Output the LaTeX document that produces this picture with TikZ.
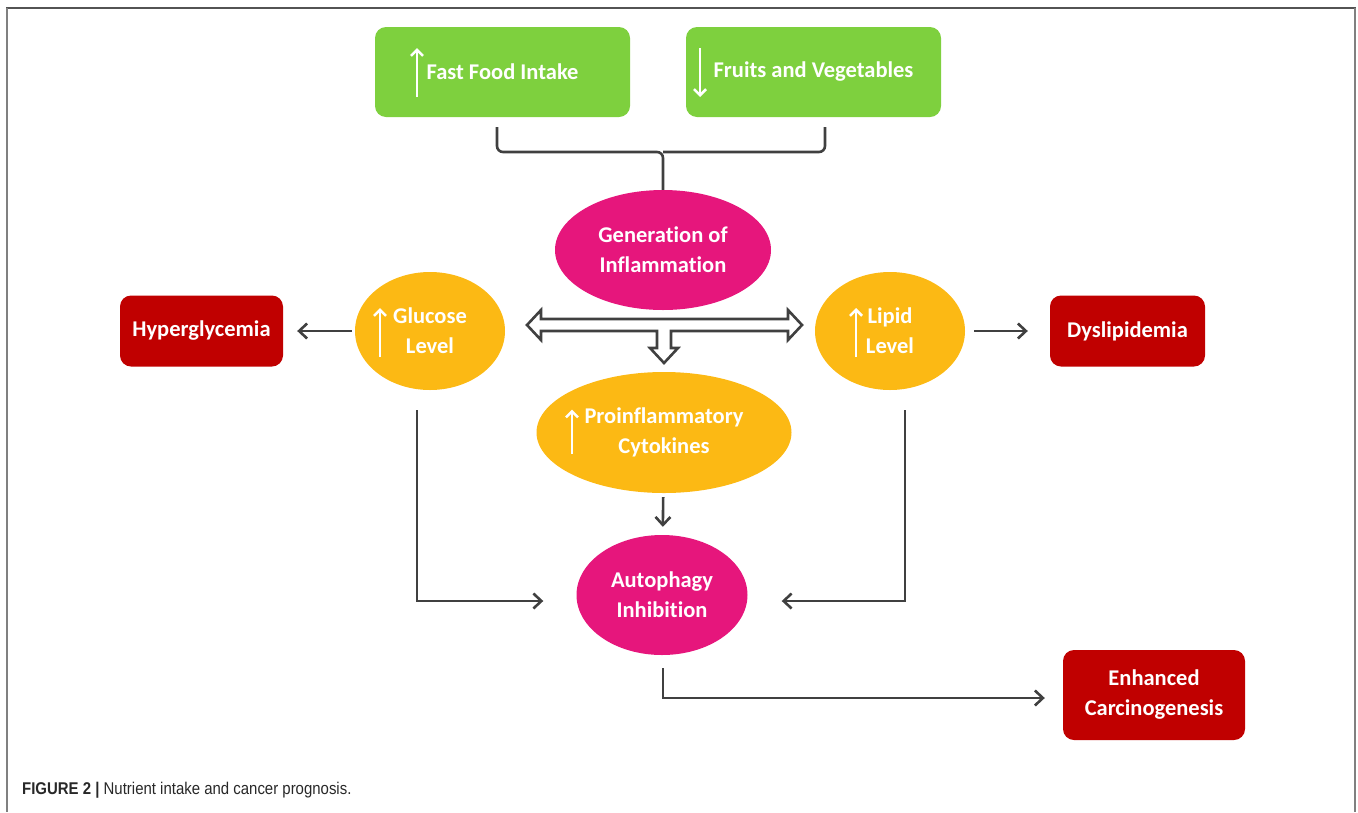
\documentclass[tikz,border=0pt]{standalone}
\usepackage{fontspec}
\setmainfont[Ligatures=NoCommon]{Carlito}
\newfontfamily\CapFont[FakeStretch=0.88]{Liberation Sans}
\usepackage{xcolor}
\definecolor{ColGreen}{RGB}{126,208,62}
\definecolor{ColPink}{RGB}{230,22,124}
\definecolor{ColGold}{RGB}{252,185,20}
\definecolor{ColRed}{RGB}{192,0,0}
\definecolor{ColLine}{RGB}{64,64,64}
\definecolor{ColCap}{RGB}{40,40,40}
\usepackage{tikz}
\usetikzlibrary{shapes.geometric}
\usetikzlibrary{arrows.meta}
\newcommand{\Lab}{\fontsize{22.5}{30}\selectfont\bfseries}
\tikzstyle{Box}=[rectangle,rounded corners=11pt,inner sep=0pt,
text=white,font=\Lab,align=center]
\tikzstyle{Oval}=[ellipse,inner sep=0pt,text=white,font=\Lab,align=center]
\tikzstyle{Edge}=[draw=ColLine,line width=2.6pt,
-{Straight Barb[length=8pt,width=15pt]}]
\tikzstyle{Bracket}=[draw=ColLine,line width=2.6pt,rounded corners=6pt]
\tikzstyle{Hollow}=[draw=ColLine,line width=2.6pt,fill=white,line join=miter]
\tikzstyle{Sign}=[draw=white,line width=2.6pt,
-{Straight Barb[length=6pt,width=12pt]}]

\begin{document}
\begin{tikzpicture}[x=1pt,y=-1pt]
            \useasboundingbox(0,0)rectangle(1358,812);
            % frame
            \draw[draw=ColLine!90,line width=2pt](6,8)--(1356,8);
            \draw[draw=gray,line width=2pt](7,8)--(7,812);
            \draw[draw=gray,line width=2pt](1355,8)--(1355,812);
            % boxes and ovals
            \node[Box,fill=ColGreen,minimum width=255pt,minimum height=90pt]
                (fast)at(502.5,72){Fast Food Intake};
            \node[Box,fill=ColGreen,minimum width=255pt,minimum height=90pt]
                (fruit)at(813.5,72){Fruits and Vegetables};
            \node[Oval,fill=ColPink,minimum width=216pt,minimum height=120pt]
                (gen)at(663,250){Generation of\\Inflammation};
            \node[Oval,fill=ColGold,minimum width=150pt,minimum height=118pt]
                (glu)at(430,331){Glucose\\Level};
            \node[Oval,fill=ColGold,minimum width=150pt,minimum height=118pt]
                (lip)at(890,331){Lipid\\Level};
            \node[Box,fill=ColRed,minimum width=163pt,minimum height=71pt]
                (hyper)at(201.5,331){Hyperglycemia};
            \node[Box,fill=ColRed,minimum width=155pt,minimum height=71pt]
                (dys)at(1127.5,331){Dyslipidemia};
            \node[Oval,fill=ColGold,minimum width=255pt,minimum height=121pt]
                (pro)at(664,432.5){Proinflammatory\\Cytokines};
            \node[Oval,fill=ColPink,minimum width=171pt,minimum height=120pt]
                (auto)at(662,595){Autophagy\\Inhibition};
            \node[Box,fill=ColRed,minimum width=182pt,minimum height=90pt]
                (enh)at(1154,695){Enhanced\\Carcinogenesis};
            % up and down signs
            \draw[Sign]([shift={(-85.5,25)}]fast.center)
                --([shift={(-85.5,-24)}]fast.center);
            \draw[Sign]([shift={(-113.5,-24)}]fruit.center)
                --([shift={(-113.5,25)}]fruit.center);
            \draw[Sign]([shift={(-50,26)}]glu.center)
                --([shift={(-50,-23)}]glu.center);
            \draw[Sign]([shift={(-34,26)}]lip.center)
                --([shift={(-34,-23)}]lip.center);
            \draw[Sign]([shift={(-92,21)}]pro.center)
                --([shift={(-92,-23)}]pro.center);
            % bracket
            \coordinate(join)at(663,152);
            \draw[Bracket]([shift={(-5.5,10)}]fast.south)|-(join)--(gen.north);
            \draw[Bracket]([shift={(11.5,10)}]fruit.south)|-(join);
            % hollow arrow
            \begin{scope}[shift={(664,325)}]
                \draw[Hollow](-137,0)--(-123,-15)--(-123,-6)--(124,-6)
                    --(124,-15)--(138,0)--(124,15)--(124,6)--(7,6)--(7,23)
                    --(14,23)--(0,38)--(-14,23)--(-7,23)--(-7,6)
                    --(-123,6)--(-123,15)--cycle;
            \end{scope}
            % edges
            \draw[Edge,shorten <=3pt,shorten >=14pt](glu.west)--(hyper.east);
            \draw[Edge,shorten <=9pt,shorten >=22pt](lip.east)--(dys.west);
            \draw[Edge,shorten <=4pt,shorten >=8pt](pro)--(auto);
            \draw[Edge,shorten >=33pt]([shift={(-13,20)}]glu.south)
                |-([yshift=-6pt]auto.west);
            \draw[Edge,shorten >=34pt]([shift={(15,20)}]lip.south)
                |-([yshift=-6pt]auto.east);
            \draw[Edge,shorten >=18pt]([shift={(1,13)}]auto.south)
                |-([yshift=-3pt]enh.west);
            % caption
            \node[anchor=base west,inner sep=0pt,text=ColCap,
                font=\CapFont\fontsize{17}{19}\selectfont](cap)at(22,794)
                {\textbf{FIGURE 2 |} Nutrient intake and cancer prognosis.};
        \end{tikzpicture}
\end{document}
